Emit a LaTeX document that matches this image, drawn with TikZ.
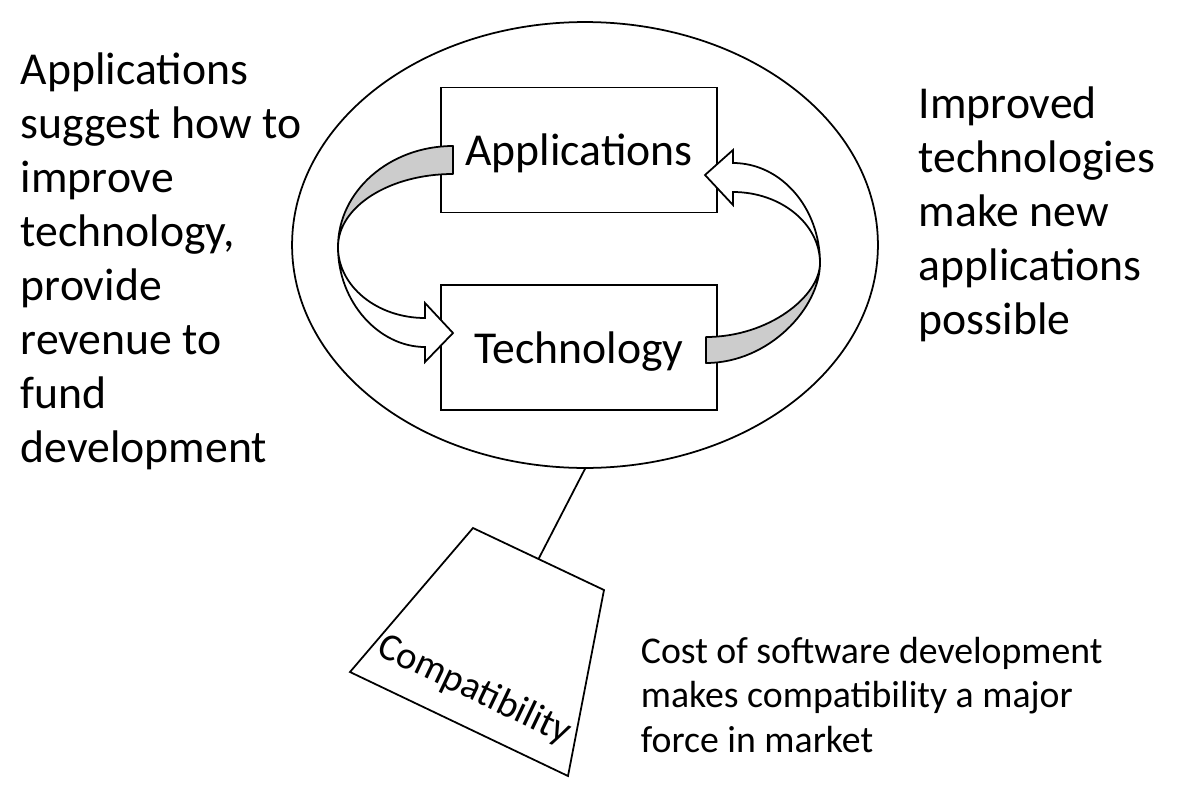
\documentclass[tikz,border=0pt]{standalone}
\usepackage{fontspec}
\setmainfont{Carlito}
\usetikzlibrary{positioning,shapes.geometric}
\definecolor{bandgray}{RGB}{204,204,204}

\begin{document}
\begin{tikzpicture}[
  x=0.02cm, y=-0.02cm,
  line width=1pt,
  box/.style={rectangle, draw, minimum width=5.52cm, minimum height=2.5cm, text depth=0pt, font=\fontsize{26}{31}\selectfont},
  note/.style={anchor=north west, inner sep=0pt, align=left, font=\fontsize{26}{30.7}\selectfont},
  band/.style={draw, fill=bandgray, line join=round},
  shaft/.style={draw, fill=white, line join=miter}
]
\useasboundingbox (0,0) rectangle (1181,785);

\node[ellipse, draw, minimum width=11.72cm, minimum height=8.92cm] (ring) at (585,245) {};
\node[box] (apps) at (579,150) {Applications};
\node[box, below=1.42cm of apps] (tech) {Technology};

% left loop: applications feed technology
\path[band] (453,146) .. controls (389.5,146) and (338,191.2) .. (338,247)
  .. controls (338,206.7) and (389.5,174) .. (453,174) -- cycle;
\path[shaft] (338,247) .. controls (338,302.2) and (379,347) .. (425,347)
  -- (425,362) -- (453,333) -- (425,303) -- (425,318)
  .. controls (377,318) and (338,286.2) .. (338,247) -- cycle;

% right loop: technology back to applications
\path[band] (706,363) .. controls (769,363) and (820,307.8) .. (820,263)
  .. controls (820,296) and (769,337) .. (706,337) -- cycle;
\path[shaft] (820,263) .. controls (820,207.8) and (781,163) .. (733,163)
  -- (733,150) -- (705,175) -- (733,205) -- (733,192)
  .. controls (781,192) and (820,224) .. (820,263) -- cycle;

\node[note] (why) at (20,52) {Applications\\suggest how to\\improve\\technology,\\provide\\revenue to\\fund\\development};
\node[note] (how) at (918,86) {Improved\\technologies\\make new\\applications\\possible};

% weight hanging under the loop
\coordinate (hook) at (538.5,559);
\draw[line join=miter] (473,528) -- (604,590) -- (568,776) -- (350,672) -- cycle;
\draw (ring.south) -- (hook);
\node[rotate=-25.5, font=\fontsize{22}{26}\selectfont] (compat) at (474,690) {Compatibility};

\node[note, font=\fontsize{21.5}{25.5}\selectfont] (cost) at (640,636) {Cost of software development\\makes compatibility a major\\force in market};
\end{tikzpicture}
\end{document}
